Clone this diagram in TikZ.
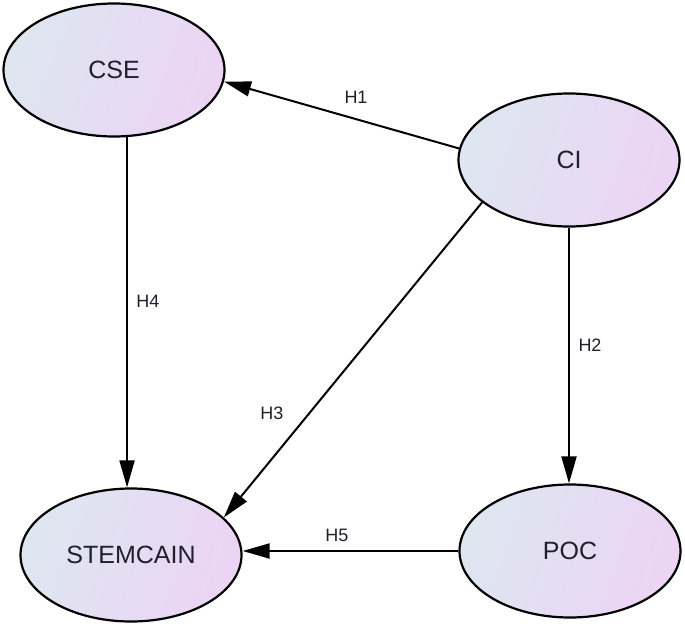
\documentclass[tikz,border=0pt]{standalone}
\usepackage{fontspec}
\setmainfont{Liberation Sans}
\usetikzlibrary{shapes.geometric,arrows.meta}
\definecolor{gl}{RGB}{222,230,240}
\definecolor{gr}{RGB}{236,212,245}
\definecolor{txt}{RGB}{32,32,44}
\begin{document}
\begin{tikzpicture}[x=1pt,y=-1pt,
  latent/.style={ellipse, draw=black, line width=2.2pt, minimum width=221pt, minimum height=133pt,
    inner sep=0pt, left color=gl, right color=gr, shading angle=70, text=txt, font=\fontsize{25}{29}\selectfont},
  hlab/.style={text=txt, font=\fontsize{18}{21}\selectfont, inner sep=0pt},
  path/.style={draw=black, line width=2pt, -{Triangle[length=27pt,width=15pt]}}]
\useasboundingbox (0,0) rectangle (685,626);
\node[latent] (CSE) at (114,70) {CSE};
\node[latent] (CI) at (569,160) {CI};
\node[latent] (STEM) at (131,555) {STEMCAIN};
\node[latent] (POC) at (570,551) {POC};
\draw[path] (CI.174) -- (CSE.354);
\draw[path] (CI.south) -- (CI.south |- POC.north);
\draw[path] (CI.206) -- (STEM.22);
\draw[path] (CSE.281) -- (CSE.281 |- STEM.north);
\draw[path] (POC.west) -- (POC.west -| STEM.east);
\node[hlab] (l1) at (356,97) {H1};
\node[hlab] (l2) at (590,345) {H2};
\node[hlab] (l3) at (272,413) {H3};
\node[hlab] (l4) at (148,301) {H4};
\node[hlab] (l5) at (337,535) {H5};
\end{tikzpicture}
\end{document}
